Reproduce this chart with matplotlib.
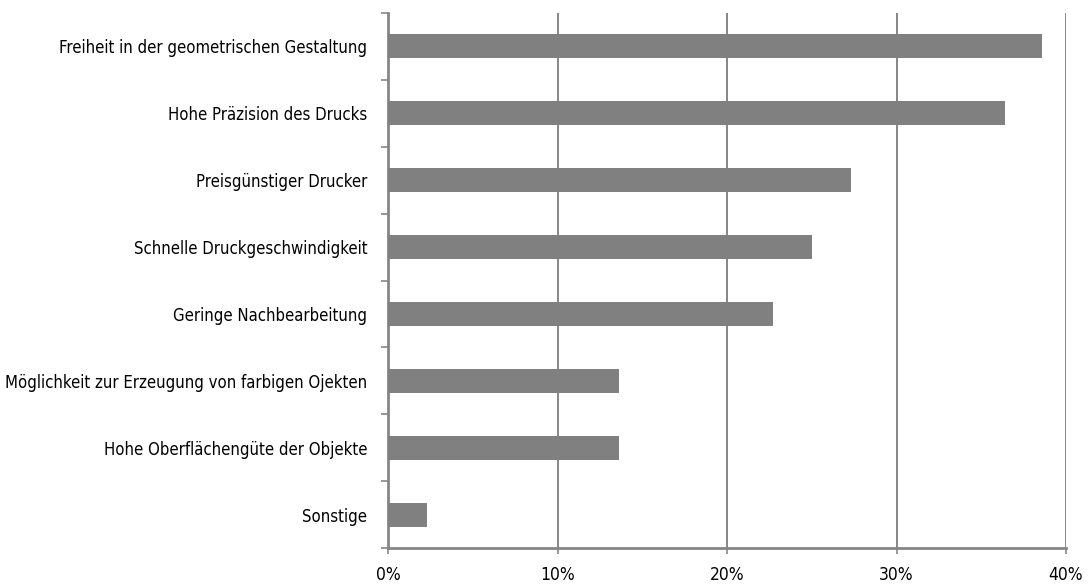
import matplotlib
matplotlib.use("Agg")
import matplotlib.pyplot as plt
import numpy as np
from matplotlib.ticker import FixedLocator, PercentFormatter

# --- Daten ---
kategorien = [
    "Freiheit in der geometrischen Gestaltung",
    "Hohe Präzision des Drucks",
    "Preisgünstiger Drucker",
    "Schnelle Druckgeschwindigkeit",
    "Geringe Nachbearbeitung",
    "Möglichkeit zur Erzeugung von farbigen Ojekten",
    "Hohe Oberflächengüte der Objekte",
    "Sonstige",
]
anteile = [38.6, 36.4, 27.3, 25.0, 22.7, 13.6, 13.6, 2.3]
x_ticks = [0, 10, 20, 30, 40]

plt.rcParams['font.family'] = ['Liberation Sans Narrow', 'DejaVu Sans']
plt.rcParams['font.stretch'] = 'condensed'

grau = '#808080'
linie = '#868686'

fig = plt.figure(figsize=(10.9, 5.88), dpi=100)
ax = fig.add_axes([388 / 1090, 1 - 548 / 588, (1066 - 388) / 1090, (548 - 13) / 588])

pos = np.arange(len(kategorien))
ax.barh(pos, anteile, height=0.36, color=grau, zorder=3)

ax.set_xlim(0, 40)
ax.set_ylim(len(kategorien) - 0.5, -0.5)

ax.set_xticks(x_ticks)
ax.xaxis.set_major_formatter(PercentFormatter(decimals=0))
ax.grid(axis='x', color=linie, linewidth=1.4, zorder=1)

ax.set_yticks(pos)
ax.set_yticklabels(kategorien)
ax.yaxis.set_minor_locator(FixedLocator(np.arange(-0.5, len(kategorien), 1.0)))
ax.tick_params(axis='y', which='major', length=0, pad=15, labelsize=12)
ax.tick_params(axis='y', which='minor', length=5, width=1.2, color=linie)
ax.tick_params(axis='x', length=4, width=1.2, color=linie, pad=9, labelsize=12.5)

for side in ['top', 'right']:
    ax.spines[side].set_visible(False)
for side in ['left', 'bottom']:
    ax.spines[side].set_color(linie)
    ax.spines[side].set_linewidth(2)

fig.savefig("out.png", dpi=100)
